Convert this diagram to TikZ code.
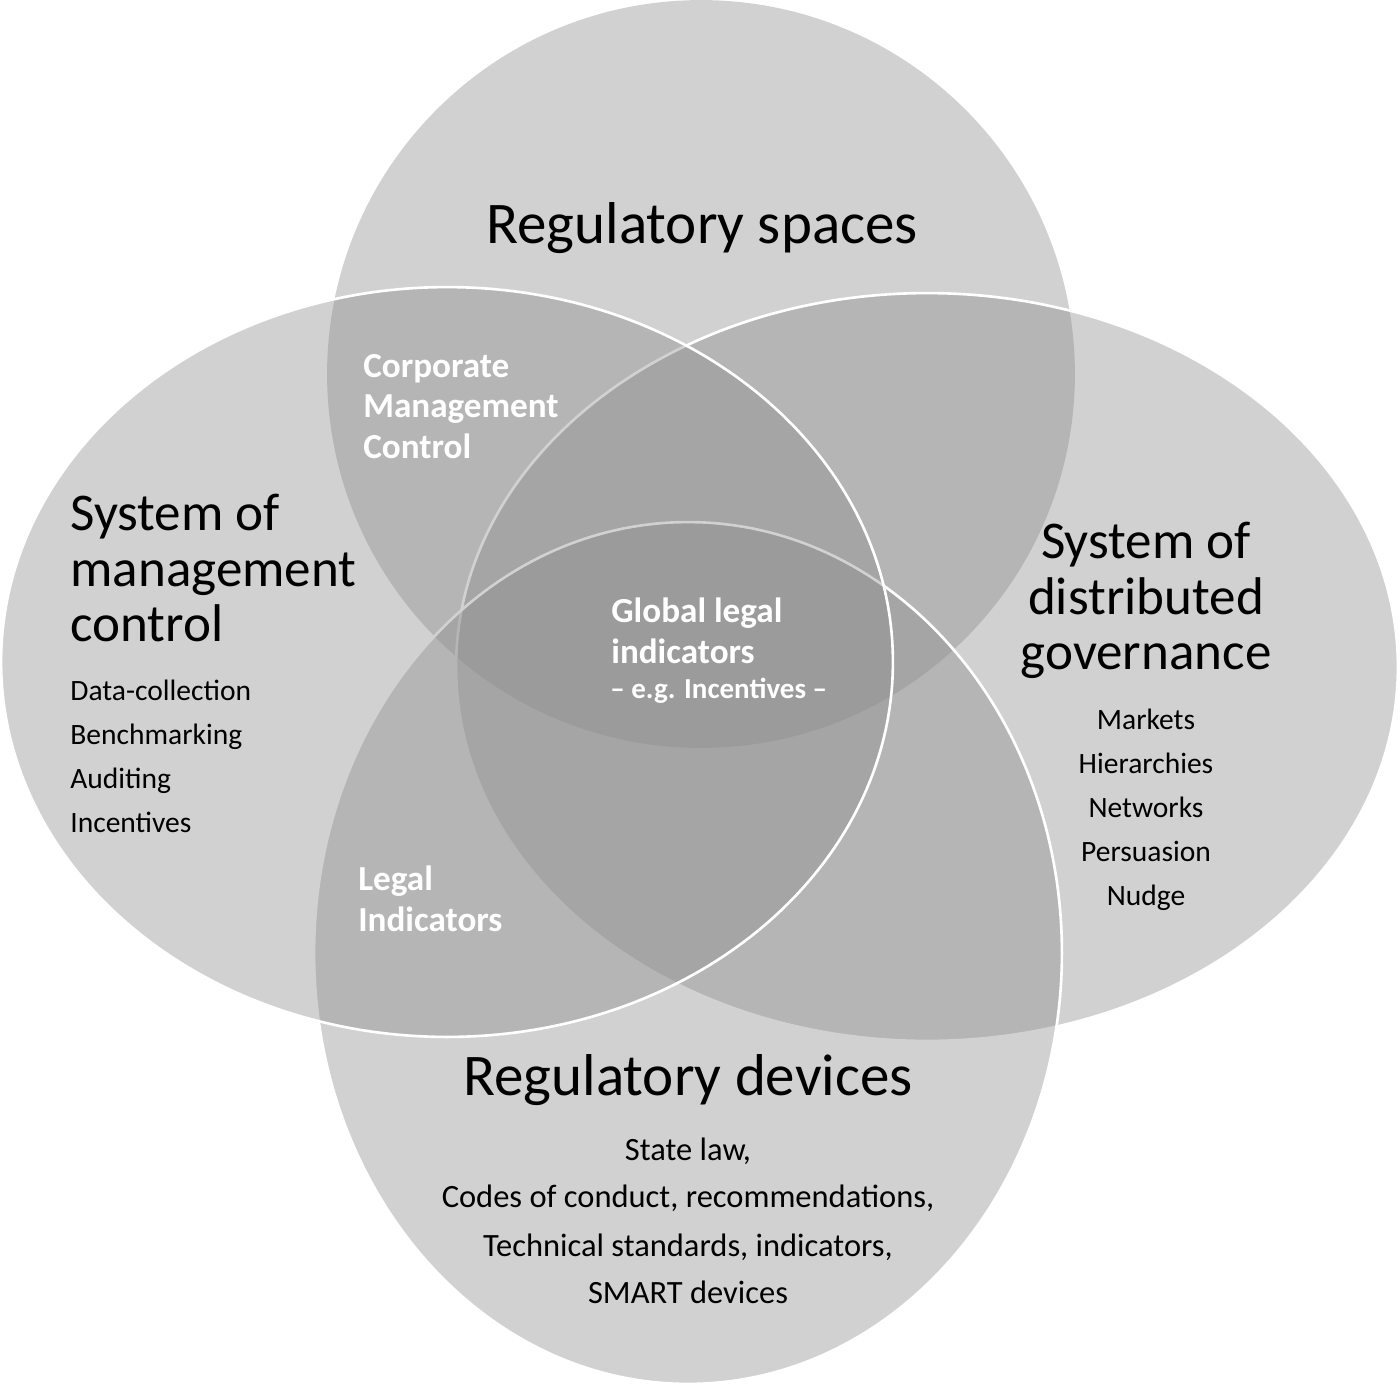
\documentclass[tikz,border=0pt]{standalone}
\usepackage{fontspec}
\setmainfont{Carlito}
\usetikzlibrary{positioning}
\tikzset{
  blob/.style={fill=black!45, fill opacity=0.4},
  rim/.style={draw=white, line width=1.5pt},
  big/.style={font=\fontsize{33.6}{33.6}\selectfont, inner sep=0pt, anchor=base},
  side/.style={font=\fontsize{30.2}{30.2}\selectfont, inner sep=0pt, anchor=base},
  item/.style={font=\fontsize{16.8}{16.8}\selectfont, inner sep=0pt, anchor=base},
  tag/.style={font=\fontsize{20}{20}\selectfont\bfseries, text=white, inner sep=0pt, anchor=base west},
}
\begin{document}
\begin{tikzpicture}[x=0.02cm, y=-0.02cm]
    \useasboundingbox (0,0) rectangle (1400,1387);

    % the four fields, lowest first
    \fill[blob] (701,374) ellipse [x radius=7.48cm, y radius=7.48cm];
    \draw[blob, rim] (927,667) ellipse [x radius=9.42cm, y radius=7.48cm];
    \draw[blob, rim] (688,953) ellipse [x radius=7.48cm, y radius=8.62cm];
    \draw[blob, rim] (447,662) ellipse [x radius=8.92cm, y radius=7.5cm];

    % titles
    \node[big] (spaces) at (702,243) {Regulatory spaces};
    \node[big] (devices) at (688,1095) {Regulatory devices};
    \foreach \txt [count=\i] in {System of, management, control}
        \node[side, anchor=base west] (mgmt\i) at (70,475+55.5*\i) {\txt};
    \foreach \txt [count=\i] in {System of, distributed, governance}
        \node[side] (gov\i) at (1146,503+55.5*\i) {\txt};

    % lists
    \foreach \txt [count=\i] in {Data-collection, Benchmarking, Auditing, Incentives}
        \node[item, anchor=base west] (tool\i) at (70,656+44*\i) {\txt};
    \foreach \txt [count=\i] in {Markets, Hierarchies, Networks, Persuasion, Nudge}
        \node[item] (mode\i) at (1146,685+44*\i) {\txt};
    \foreach \y/\txt [count=\i] in {1160/{State law,}, 1207/{Codes of conduct, recommendations,},
        1256/{Technical standards, indicators,}, 1303/{SMART devices}}
        \node[item, font=\fontsize{18.5}{18.5}\selectfont] (dev\i) at (688,\y) {\txt};

    % overlaps
    \node[tag] (corp1) at (363,377) {Corporate};
    \node[tag] (corp2) at (363,417) {Management};
    \node[tag] (corp3) at (363,458) {Control};
    \node[tag] (legal1) at (358,890) {Legal};
    \node[tag] (legal2) at (358,931) {Indicators};
    \node[tag] (glob1) at (611,622) {Global legal};
    \node[tag] (glob2) at (611,663) {indicators};
    \node[tag, font=\fontsize{16.5}{16.5}\selectfont\bfseries] (glob3) at (610,698) {– e.g. Incentives –};
\end{tikzpicture}
\end{document}
